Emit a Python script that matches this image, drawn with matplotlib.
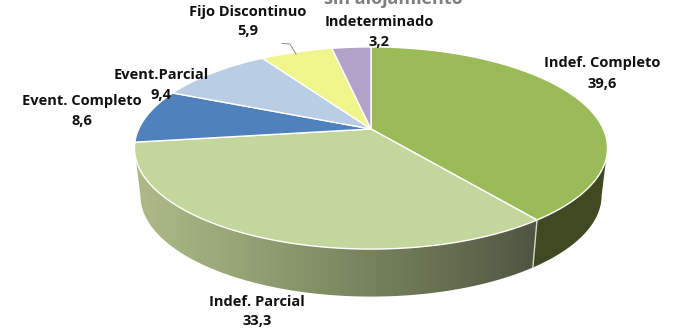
import numpy as np
import matplotlib
matplotlib.use("Agg")
import matplotlib.pyplot as plt
from matplotlib.patches import Polygon
from matplotlib.colors import LinearSegmentedColormap

categories = ["Indef. Completo", "Indef. Parcial", "Event. Completo",
              "Event.Parcial", "Fijo Discontinuo", "Indeterminado"]
values = [39.6, 33.3, 8.6, 9.4, 5.9, 3.2]
value_labels = ["39,6", "33,3", "8,6", "9,4", "5,9", "3,2"]
top_colors = ["#9BBB59", "#C3D69B", "#4F81BD", "#B9CDE5", "#F0F68C", "#B3A2C7"]
title_text = "sin alojamiento"

W, H = 673, 330
fig = plt.figure(figsize=(W / 100, H / 100), dpi=100)
ax = fig.add_axes([0, 0, 1, 1])
ax.set_xlim(0, W)
ax.set_ylim(H, 0)
ax.axis("off")

CX, CY, A, B, K = 371.0, 129.0, 97.5, 232.3, 0.188
DEPTH, SHRINK = 47.5, 0.975
TANGENT = 0.19


def rim(t):
    c, s = np.cos(t), np.sin(t)
    d = 1 + K * s
    return CX + B * c / d, CY - A * s / d


def lower(t):
    x, y = rim(t)
    return CX + SHRINK * (x - CX), y + DEPTH


def angle(pct):
    return np.pi / 2 - 2 * np.pi * pct / 100


edges = np.concatenate([[0], np.cumsum(values)])

# visible side wall, light at left and dark at right
side_light = LinearSegmentedColormap.from_list(
    "s1", ["#AEBB88", "#98A577", "#7F8B63", "#687252", "#505542"])
t = np.linspace(angle(edges[1]), -np.pi + TANGENT, 200)
xs, ys = rim(t)
xl, yl = lower(t)
poly = Polygon(np.r_[np.c_[xs, ys], np.c_[xl, yl][::-1]], closed=True, fc="none", ec="none")
ax.add_patch(poly)
grad = np.linspace(0, 1, 256)[None, :]
im = ax.imshow(grad, cmap=side_light, extent=[135, 536, 300, 100], aspect="auto", zorder=1)
im.set_clip_path(poly)
ax.set_xlim(0, W)
ax.set_ylim(H, 0)

t = np.linspace(-TANGENT, angle(edges[1]), 100)
xs, ys = rim(t)
xl, yl = lower(t)
ax.add_patch(Polygon(np.r_[np.c_[xs, ys], np.c_[xl, yl][::-1]], closed=True,
                     fc="#3F4A22", ec="none", zorder=1))
x0, y0 = rim(angle(edges[1]))
x1, y1 = lower(angle(edges[1]))
ax.plot([x0, x1], [y0, y1], color="#D5D8CC", lw=1.0, zorder=2)

# top surface
for i, col in enumerate(top_colors):
    t = np.linspace(angle(edges[i]), angle(edges[i + 1]), 120)
    xs, ys = rim(t)
    pts = np.r_[[[CX, CY]], np.c_[xs, ys]]
    ax.add_patch(Polygon(pts, closed=True, fc=col, ec="white", lw=1.0, zorder=3))

font = dict(family="Open Sans", fontweight="bold", color="#111111", fontsize=10.5,
            ha="center", va="center", zorder=5)
label_pos = [(602, 63, 84), (257, 302, 321), (82, 101, 121),
             (161, 75, 95), (248, 12, 31), (379, 22, 42)]
for name, val, (x, y1_, y2_) in zip(categories, value_labels, label_pos):
    ax.text(x, y1_, name, **font)
    ax.text(x, y2_, val, **font)

ax.plot([282, 290, 296], [43.5, 44, 54], color="#8A8A8A", lw=0.7, zorder=4)
ax.text(393.5, 4.5, title_text, family="Open Sans", fontweight="bold", color="#7F7F7F",
        fontsize=13, ha="center", va="baseline", zorder=5)

fig.savefig("out.png", dpi=100)
